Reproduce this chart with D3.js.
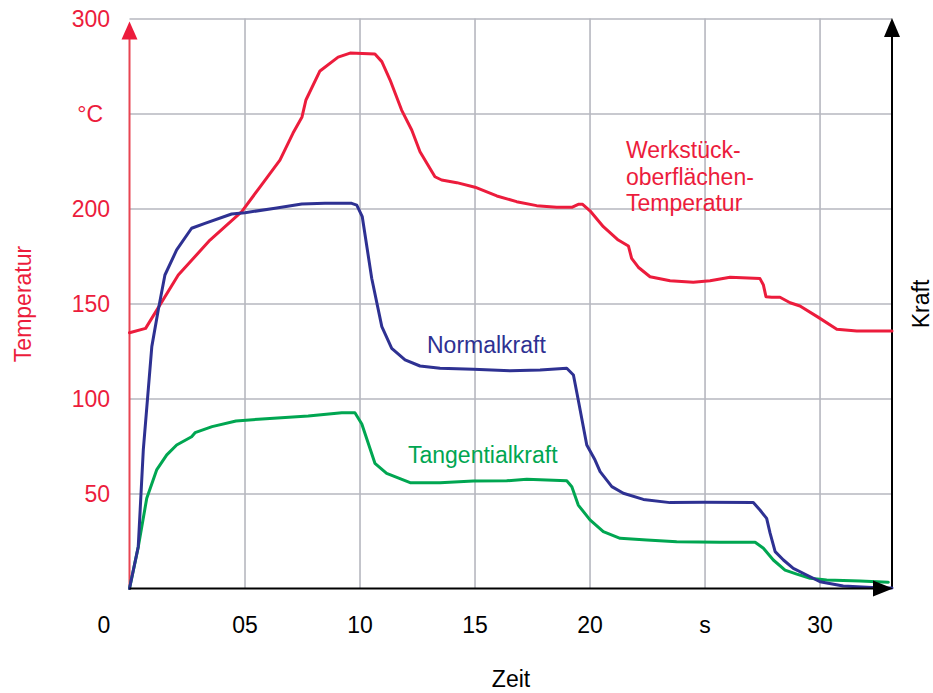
<!DOCTYPE html>
<html>
<head>
<meta charset="utf-8">
<script src="https://cdn.jsdelivr.net/npm/d3@7"></script>
<style>
  html, body { margin: 0; padding: 0; background: #fff; }
  svg { display: block; font-family: "Liberation Sans", Arial, Helvetica, sans-serif; }
</style>
</head>
<body>
<svg id="chart" width="933" height="693"></svg>
<script>
// ---- data ----
const xTickValues = [0, 5, 10, 15, 20, 25, 30];
const xTickLabels = ["0", "05", "10", "15", "20", "s", "30"];
const yTickValues = [50, 100, 150, 200, 250, 300];
const yTickLabels = ["50", "100", "150", "200", "°C", "300"];

// Werkstückoberflächen-Temperatur (°C)
const tempTime = [0, 0.70, 2.12, 3.50, 4.88, 5.67, 6.54, 7.11, 7.50, 7.67, 8.28, 9.07, 9.59, 10.67, 10.97, 11.33, 11.83, 12.27, 12.63, 13.28, 13.57, 14.23, 15.02, 15.97, 16.83, 17.70, 18.57, 19.23, 19.51, 19.70, 20.02, 20.60, 21.25, 21.69, 21.83, 22.12, 22.63, 23.50, 24.51, 25.24, 26.11, 27.41, 27.56, 27.67, 27.92, 28.28, 28.72, 29.15, 29.95, 30.75, 31.62, 33.15];
const tempValue = [134.6, 136.9, 165.0, 183.4, 198.3, 211.3, 225.5, 239.7, 248.2, 257.1, 272.4, 279.7, 281.8, 281.3, 277.3, 267.6, 251.8, 241.3, 229.9, 216.7, 215.0, 213.6, 211.2, 206.6, 203.6, 201.5, 200.6, 200.6, 202.2, 202.2, 198.8, 190.4, 183.4, 180.3, 173.8, 169.1, 164.1, 162.0, 161.2, 162.0, 163.8, 163.1, 159.7, 153.6, 153.3, 153.3, 150.4, 148.7, 142.7, 136.4, 135.5, 135.5];

// Normalkraft (in grid units)
const normalTime = [0, 0.38, 0.60, 0.97, 1.25, 1.54, 2.05, 2.70, 3.28, 4.44, 5.02, 6.33, 7.49, 8.50, 9.66, 9.88, 10.12, 10.53, 10.97, 11.40, 11.98, 12.63, 13.50, 14.95, 16.54, 17.85, 19.01, 19.30, 19.51, 19.88, 20.24, 20.46, 20.97, 21.47, 22.34, 23.50, 24.95, 27.12, 27.41, 27.70, 27.85, 28.07, 28.43, 28.86, 29.44, 30.02, 31.03, 32.49, 33.15];
const normalValue = [0, 22.0, 72.9, 127.3, 146.6, 165.0, 178.2, 189.6, 192.2, 197.1, 197.8, 200.1, 202.4, 202.7, 202.7, 201.8, 195.7, 163.3, 137.8, 126.4, 120.3, 117.1, 115.9, 115.4, 114.6, 115.0, 115.9, 112.4, 99.2, 75.5, 67.6, 61.5, 53.6, 50.1, 46.9, 45.2, 45.4, 45.2, 41.3, 36.9, 29.1, 19.4, 15.0, 10.6, 7.1, 3.6, 1.3, 0.4, 0.3];

// Tangentialkraft (in grid units)
const tangTime = [0, 0.38, 0.75, 1.18, 1.62, 2.05, 2.70, 2.85, 3.59, 4.63, 5.60, 7.77, 9.23, 9.80, 10.10, 10.67, 11.18, 12.20, 13.50, 14.95, 16.40, 17.27, 19.01, 19.23, 19.51, 20.02, 20.60, 21.33, 22.49, 23.79, 25.67, 27.20, 27.56, 27.99, 28.50, 29.01, 29.59, 30.31, 31.76, 32.99];
const tangValue = [0, 21.8, 47.5, 62.4, 70.3, 75.5, 79.9, 82.0, 85.2, 88.2, 89.1, 90.8, 92.5, 92.5, 86.6, 65.9, 60.6, 55.7, 55.7, 56.6, 56.7, 57.5, 56.7, 53.6, 43.9, 36.1, 29.9, 26.4, 25.5, 24.6, 24.3, 24.3, 21.2, 15.0, 9.7, 7.6, 5.4, 4.5, 3.9, 3.3];

// ---- drawing ----
const RED = "#ec1c3c", NAVY = "#2e3192", GREEN = "#00a651", GRID = "#b6b7bf";
const svg = d3.select("#chart");
const x = d3.scaleLinear().domain([0, 33.15]).range([129.5, 892]);
const y = d3.scaleLinear().domain([0, 300]).range([588.5, 18.5]);
const FS = "23px";

// grid
const gx = svg.append("g").attr("transform", `translate(0,${y(0)})`)
  .call(d3.axisBottom(x).tickValues(xTickValues.filter(v => v > 0)).tickSize(-(y(0) - y(300))).tickFormat(""));
gx.select(".domain").remove();
gx.selectAll("line").attr("stroke", GRID).attr("stroke-width", 1.6);

const gy = svg.append("g").attr("transform", `translate(${x(0)},0)`)
  .call(d3.axisLeft(y).tickValues(yTickValues).tickSize(-(892 - x(0))).tickFormat(""));
gy.select(".domain").remove();
gy.selectAll("line").attr("stroke", GRID).attr("stroke-width", 1.6);

// x tick labels
const ax = svg.append("g").attr("transform", `translate(0,${y(0)})`)
  .call(d3.axisBottom(x).tickValues(xTickValues).tickSize(0).tickPadding(0)
    .tickFormat((d, i) => xTickLabels[i]));
ax.select(".domain").remove();
ax.selectAll("text").attr("font-size", FS).attr("fill", "#000")
  .attr("font-family", "Liberation Sans, Arial, sans-serif")
  .attr("dy", null).attr("y", 44)
  .attr("dx", (d, i) => i === 0 ? -26 : 0);

// y tick labels
const ay = svg.append("g").attr("transform", `translate(110,0)`)
  .call(d3.axisLeft(y).tickValues(yTickValues).tickSize(0).tickPadding(0)
    .tickFormat((d, i) => yTickLabels[i]));
ay.select(".domain").remove();
ay.selectAll("text").attr("font-size", FS).attr("fill", RED)
  .attr("font-family", "Liberation Sans, Arial, sans-serif")
  .attr("dy", "0.36em")
  .attr("x", (d, i) => yTickLabels[i] === "°C" ? -7 : 0);

// axes lines
svg.append("line").attr("x1", x(0)).attr("x2", x(0)).attr("y1", y(0)).attr("y2", 36)
  .attr("stroke", "#e84452").attr("stroke-width", 2);
svg.append("path").attr("d", `M${x(0)},21.5 L${x(0) - 8},39.5 L${x(0) + 8},39.5 Z`).attr("fill", RED);

svg.append("line").attr("x1", 892).attr("x2", 892).attr("y1", y(0)).attr("y2", 34)
  .attr("stroke", "#000").attr("stroke-width", 2);
svg.append("path").attr("d", `M892,18 L884,37 L900,37 Z`).attr("fill", "#000");

// data lines
const line = d3.line().x(d => x(d[0])).y(d => y(d[1])).curve(d3.curveLinear);
function drawSeries(ts, vs, color) {
  svg.append("path").datum(ts.map((t, i) => [t, vs[i]]))
    .attr("d", line).attr("fill", "none").attr("stroke", color)
    .attr("stroke-width", 3).attr("stroke-linejoin", "round").attr("stroke-linecap", "round");
}
drawSeries(tempTime, tempValue, RED);
drawSeries(tangTime, tangValue, GREEN);
drawSeries(normalTime, normalValue, NAVY);

svg.append("line").attr("x1", x(0)).attr("x2", 878).attr("y1", y(0)).attr("y2", y(0))
  .attr("stroke", "#000").attr("stroke-width", 2);
svg.append("path").attr("d", `M893,${y(0)} L873,${y(0) - 8} L873,${y(0) + 8} Z`).attr("fill", "#000");

// axis titles
svg.append("text").attr("transform", "translate(31,304) rotate(-90)")
  .attr("text-anchor", "middle").attr("font-size", FS).attr("fill", RED).text("Temperatur");
svg.append("text").attr("transform", "translate(929,304) rotate(-90)")
  .attr("text-anchor", "middle").attr("font-size", FS).attr("fill", "#000").text("Kraft");
svg.append("text").attr("x", 511).attr("y", 687)
  .attr("text-anchor", "middle").attr("font-size", FS).attr("fill", "#000").text("Zeit");

// annotations
const ann = svg.append("text").attr("font-size", FS).attr("fill", RED);
["Werkstück-", "oberflächen-", "Temperatur"].forEach((s, i) => {
  ann.append("tspan").attr("x", 626).attr("y", 158 + i * 26.5).text(s);
});
svg.append("text").attr("x", 427).attr("y", 353).attr("font-size", FS).attr("fill", NAVY).text("Normalkraft");
svg.append("text").attr("x", 408).attr("y", 463).attr("font-size", FS).attr("fill", GREEN).text("Tangentialkraft");
</script>
</body>
</html>
